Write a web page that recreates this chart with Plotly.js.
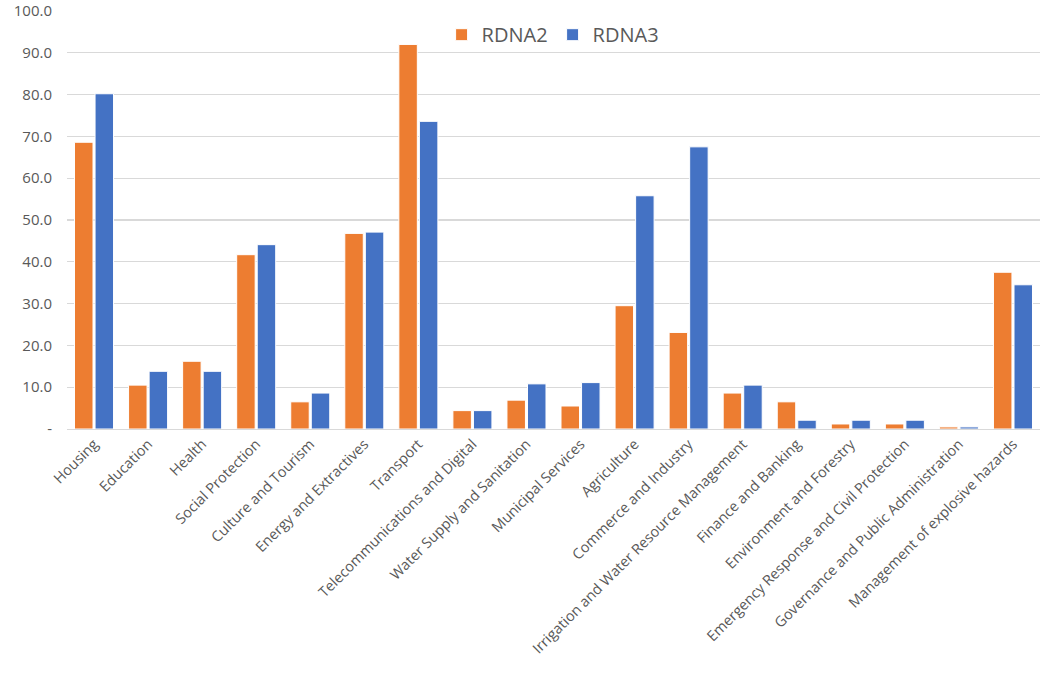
<!DOCTYPE html>
<html>
<head>
<meta charset="utf-8">
<script src="https://cdn.plot.ly/plotly-3.0.1.min.js"></script>
<style>html,body{margin:0;padding:0;background:#fff;}#chart{width:1042px;height:694px;}</style>
</head>
<body>
<div id="chart"></div>
<script>
const categories = ["Housing","Education","Health","Social Protection","Culture and Tourism","Energy and Extractives","Transport","Telecommunications and Digital","Water Supply and Sanitation","Municipal Services","Agriculture","Commerce and Industry","Irrigation and Water Resource Management","Finance and Banking","Environment and Forestry","Emergency Response and Civil Protection","Governance and Public Administration","Management of explosive hazards"];
const rdna2 = [68.6,10.5,16.2,41.7,6.5,46.8,92.0,4.4,6.9,5.5,29.5,23.1,8.6,6.5,1.2,1.2,0.5,37.5];
const rdna3 = [80.2,13.8,13.8,44.1,8.6,47.1,73.6,4.4,10.8,11.1,55.8,67.5,10.5,2.1,2.1,2.1,0.5,34.5];
const yTickVals = [0,10,20,30,40,50,60,70,80,90,100];
const yTickText = ["-","10.0","20.0","30.0","40.0","50.0","60.0","70.0","80.0","90.0","100.0"];

const font = {family: "Open Sans, Liberation Sans, sans-serif", color: "#595959"};
const data = [
  {type: "bar", name: "RDNA2", x: categories, y: rdna2,
   marker: {color: "#ED7D31", line: {color: "#ffffff", width: 1}}},
  {type: "bar", name: "RDNA3", x: categories, y: rdna3,
   marker: {color: "#4472C4", line: {color: "#ffffff", width: 1}}}
];
const layout = {
  width: 1042, height: 694,
  margin: {l: 67, r: 2, t: 11, b: 265},
  paper_bgcolor: "#fff", plot_bgcolor: "#fff",
  barmode: "group", bargap: 0.24, bargroupgap: 0.1,
  font: Object.assign({size: 14}, font),
  showlegend: true,
  legend: {orientation: "h", x: 0.385, xanchor: "left", y: 0.99, yanchor: "top",
           font: Object.assign({size: 20}, font), itemwidth: 30, traceorder: "normal",
           bgcolor: "rgba(0,0,0,0)"},
  xaxis: {tickangle: -45, tickfont: Object.assign({size: 14.5}, font), showgrid: false,
          showline: true, linecolor: "#d9d9d9", linewidth: 1, ticks: ""},
  yaxis: {range: [0, 100], tickvals: yTickVals, ticktext: yTickText,
          tickfont: Object.assign({size: 15}, font), gridcolor: "#d9d9d9", gridwidth: 1.3,
          zeroline: false, showline: false, ticks: "", ticklabelstandoff: 14}
};
Plotly.newPlot("chart", data, layout, {displayModeBar: false, staticPlot: true});
</script>
</body>
</html>
